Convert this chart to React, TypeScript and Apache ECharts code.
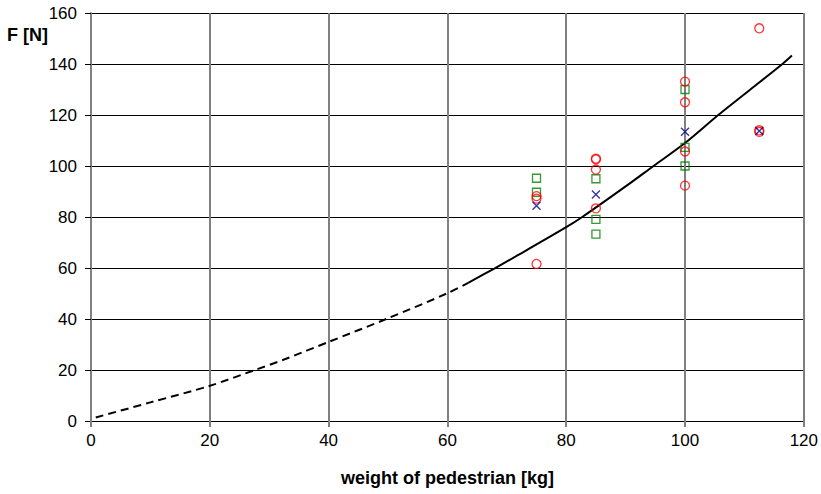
import React, { useEffect, useRef } from "react";
import * as echarts from "echarts";

const xTicks = [0, 20, 40, 60, 80, 100, 120];
const yTicks = [0, 20, 40, 60, 80, 100, 120, 140, 160];

const squareX = [75, 75, 85, 85, 85, 100, 100, 100];
const squareY = [95.2, 89.7, 95.0, 79.1, 73.3, 130.0, 107.3, 100.0];

const circleX = [75, 75, 75, 85, 85, 85, 85, 100, 100, 100, 100, 112.5, 112.5, 112.5];
const circleY = [88.2, 87.2, 61.6, 102.9, 102.6, 98.6, 83.4, 133.1, 125.0, 105.7, 92.3, 154.0, 113.4, 114.0];

const crossX = [75, 85, 100, 112.5];
const crossY = [84.4, 88.8, 113.4, 113.7];

const dashedX = [0.8, 10, 20, 27.6, 32.6, 40, 49.7, 60, 63.5];
const dashedY = [1.4, 7.3, 13.8, 20, 24.2, 31, 40, 50.1, 54.2];

const solidX = [63.5, 67.9, 72, 80, 82.7, 90, 94.7, 100, 105.6, 111, 116.4, 118];
const solidY = [54.2, 59.8, 65.2, 76, 80, 92, 100, 109, 120, 130, 140, 143.3];

const xTitle = "weight of pedestrian [kg]";
const yTitle = "F [N]";

const zip = (a: number[], b: number[]) => a.map((v, i) => [v, b[i]]);

const FONT = "'Liberation Sans', Arial, sans-serif";

export default function App() {
  const ref = useRef<HTMLDivElement>(null);
  useEffect(() => {
    if (!ref.current) return;
    const chart = echarts.init(ref.current, null, { renderer: "svg" });
    chart.setOption({
      animation: false,
      backgroundColor: "#ffffff",
      textStyle: { fontFamily: FONT },
      grid: { left: 91, right: 16, top: 13, bottom: 73, containLabel: false },
      graphic: [
        {
          type: "text",
          left: 7,
          top: 26,
          style: { text: yTitle, font: `bold 18px ${FONT}`, fill: "#000" },
        },
      ],
      xAxis: {
        type: "value",
        min: xTicks[0],
        max: xTicks[xTicks.length - 1],
        interval: 20,
        name: xTitle,
        nameLocation: "middle",
        nameGap: 48,
        nameTextStyle: { fontFamily: FONT, fontWeight: "bold", fontSize: 18, color: "#000" },
        axisLine: { show: true, onZero: false, lineStyle: { color: "#000", width: 1 } },
        axisTick: { show: true, length: 6, lineStyle: { color: "#808080", width: 2 } },
        axisLabel: { color: "#000", fontSize: 17, margin: 11, fontFamily: FONT },
        splitLine: { show: true, lineStyle: { color: "#808080", width: 2 } },
      },
      yAxis: {
        type: "value",
        min: yTicks[0],
        max: yTicks[yTicks.length - 1],
        interval: 20,
        axisLine: { show: true, lineStyle: { color: "#808080", width: 2 } },
        axisTick: { show: true, length: 6, lineStyle: { color: "#000", width: 1 } },
        axisLabel: { color: "#000", fontSize: 17, margin: 14, fontFamily: FONT },
        splitLine: { show: true, lineStyle: { color: "#000", width: 1 } },
      },
      series: [
        {
          type: "line",
          data: zip(dashedX, dashedY),
          showSymbol: false,
          smooth: 0.3,
          lineStyle: { color: "#000", width: 2, type: [8, 5] },
          z: 3,
        },
        {
          type: "line",
          data: zip(solidX, solidY),
          showSymbol: false,
          smooth: 0.3,
          lineStyle: { color: "#000", width: 2 },
          z: 3,
        },
        {
          type: "scatter",
          data: zip(squareX, squareY),
          symbol: "rect",
          symbolSize: 8,
          itemStyle: { color: "rgba(0,0,0,0)", borderColor: "#008000", borderWidth: 1.3 },
          z: 4,
        },
        {
          type: "scatter",
          data: zip(circleX, circleY),
          symbol: "circle",
          symbolSize: 9,
          itemStyle: { color: "rgba(0,0,0,0)", borderColor: "#ff0000", borderWidth: 1.3 },
          z: 5,
        },
        {
          type: "scatter",
          data: zip(crossX, crossY),
          symbol: "path://M0,0L10,10M10,0L0,10",
          symbolSize: 8,
          itemStyle: { color: "rgba(0,0,0,0)", borderColor: "#000080", borderWidth: 1.3 },
          z: 6,
        },
      ],
    });
    return () => chart.dispose();
  }, []);
  return (
    <div
      ref={ref}
      style={{ position: "fixed", left: 0, top: 0, width: 821, height: 494 }}
    />
  );
}
